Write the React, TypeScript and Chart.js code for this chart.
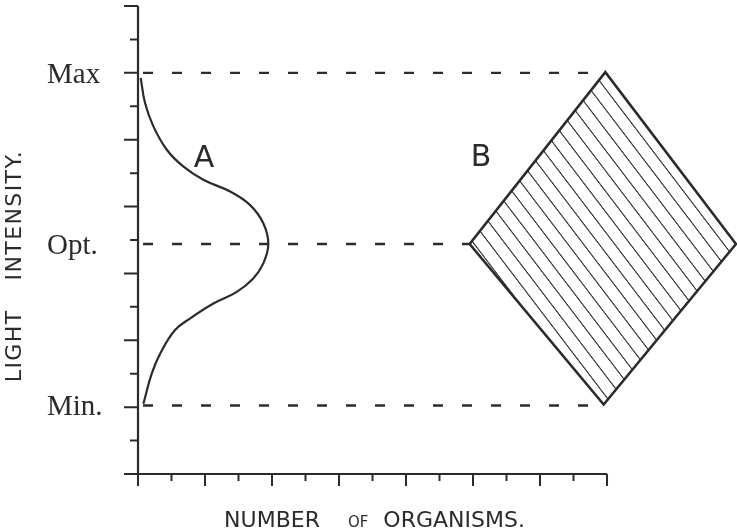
import React, { useEffect, useRef } from 'react';
import { Chart, registerables } from 'chart.js';

Chart.register(...registerables);

// ---------- data ----------
const levelNames = ['Max', 'Opt.', 'Min.'];
const levelValues = [12.0, 6.88, 2.05];
const levelLineStart = [0.15, 0.15, 0.15];
const levelLineEnd = [13.95, 9.9, 13.9];

// curve A (number of organisms vs light intensity)
const curveAY = [11.85, 11.1, 10.4, 9.7, 9.2, 8.8, 8.45, 8.05, 7.5, 6.88, 6.3, 5.85, 5.45, 5.1, 4.65, 4.3, 3.6, 3.0, 2.1];
const curveAX = [0.08, 0.21, 0.46, 0.86, 1.35, 1.95, 2.75, 3.34, 3.74, 3.89, 3.74, 3.44, 2.95, 2.25, 1.55, 1.1, 0.66, 0.41, 0.16];

// shape B (diamond): top, right, bottom, left, back to top (and right again so every corner is joined)
const diamondX = [13.95, 17.85, 13.9, 9.9, 13.95, 17.85];
const diamondY = [12.02, 6.88, 2.08, 6.88, 12.02, 6.88];

const axisTicks = [0, 1, 2, 3, 4, 5, 6, 7, 8, 9, 10, 11, 12, 13, 14];
const markLabels = ['A', 'B'];
const markX = [1.97, 10.24];
const markY = [9.42, 9.45];

const xTitleParts = ['NUMBER', 'OF', 'ORGANISMS.'];
const yTitleParts = ['LIGHT', 'INTENSITY.'];

const INK = '#2b2b2b';
const X_MAX = 17.88;
const Y_MAX = 14;

function makeHatch(): CanvasPattern | string {
  const t = document.createElement('canvas');
  t.width = 20;
  t.height = 20;
  const c = t.getContext('2d');
  if (!c) return 'rgba(0,0,0,0)';
  c.strokeStyle = '#3a3a3a';
  c.lineWidth = 1.9;
  c.beginPath();
  c.moveTo(0, 10);
  c.lineTo(20, 10);
  c.stroke();
  const main = document.createElement('canvas').getContext('2d');
  const p = main ? main.createPattern(t, 'repeat') : null;
  if (!p) return 'rgba(0,0,0,0.2)';
  const m = new DOMMatrix().rotateSelf(52.7).scaleSelf(12.4 / 20);
  p.setTransform(m);
  return p;
}

const decorPlugin = {
  id: 'decor',
  afterDatasetsDraw(chart: any) {
    const ctx: CanvasRenderingContext2D = chart.ctx;
    const xs = chart.scales.x;
    const ys = chart.scales.y;
    const px = (v: number) => xs.getPixelForValue(v);
    const py = (v: number) => ys.getPixelForValue(v);
    const first = axisTicks[0];
    const last = axisTicks[axisTicks.length - 1];
    ctx.save();
    ctx.strokeStyle = INK;
    ctx.lineWidth = 2.2;
    ctx.lineCap = 'butt';
    // axis lines
    ctx.beginPath();
    ctx.moveTo(px(first), py(last));
    ctx.lineTo(px(first), py(first));
    ctx.lineTo(px(last), py(first));
    ctx.stroke();
    // ticks
    ctx.lineWidth = 2;
    ctx.beginPath();
    axisTicks.forEach((t) => {
      const long = t % 2 === 0;
      const yl = long ? 14 : 8;
      ctx.moveTo(px(first), py(t));
      ctx.lineTo(px(first) - yl, py(t));
      const xl = long ? 12 : 7;
      ctx.moveTo(px(t), py(first));
      ctx.lineTo(px(t), py(first) + xl);
    });
    ctx.stroke();

    // level labels
    ctx.fillStyle = INK;
    ctx.font = '29px "Liberation Serif", "DejaVu Serif", serif';
    ctx.textAlign = 'left';
    ctx.textBaseline = 'alphabetic';
    levelNames.forEach((name, i) => {
      ctx.fillText(name, 47, py(levelValues[i]) + 10);
    });

    // A / B labels
    ctx.font = '30px "DejaVu Sans", sans-serif';
    ctx.textAlign = 'center';
    ctx.textBaseline = 'middle';
    markLabels.forEach((s, i) => {
      ctx.fillText(s, px(markX[i]), py(markY[i]));
    });

    // x title
    ctx.textAlign = 'left';
    ctx.textBaseline = 'alphabetic';
    const bigFont = '22px "DejaVu Sans", sans-serif';
    const smallFont = '15px "DejaVu Sans", sans-serif';
    ctx.font = bigFont;
    const w0 = ctx.measureText(xTitleParts[0]).width;
    const w2 = ctx.measureText(xTitleParts[2]).width;
    ctx.font = smallFont;
    const w1 = ctx.measureText(xTitleParts[1]).width;
    const g1 = 28, g2 = 15;
    const total = w0 + g1 + w1 + g2 + w2;
    const cx = (px(first) + px(last)) / 2 + 2;
    let x0 = cx - total / 2;
    const base = py(first) + 53;
    ctx.font = bigFont;
    ctx.fillText(xTitleParts[0], x0, base);
    x0 += w0 + g1;
    ctx.font = smallFont;
    ctx.fillText(xTitleParts[1], x0, base);
    x0 += w1 + g2;
    ctx.font = bigFont;
    ctx.fillText(xTitleParts[2], x0, base);

    // y title
    ctx.font = bigFont;
    (ctx as any).letterSpacing = '1.4px';
    const a = ctx.measureText(yTitleParts[0]).width;
    const b = ctx.measureText(yTitleParts[1]).width;
    const gap = 29;
    const tot = a + gap + b;
    const cy = (py(first) + py(last)) / 2 + 26;
    ctx.translate(15, cy);
    ctx.rotate(-Math.PI / 2);
    ctx.textBaseline = 'middle';
    ctx.fillText(yTitleParts[0], -tot / 2, 0);
    ctx.fillText(yTitleParts[1], -tot / 2 + a + gap, 0);
    (ctx as any).letterSpacing = '0px';
    ctx.restore();
  },
};

export default function App() {
  const ref = useRef<HTMLCanvasElement | null>(null);

  useEffect(() => {
    const canvas = ref.current;
    if (!canvas) return;
    const hatch = makeHatch();

    const datasets: any[] = [];
    levelValues.forEach((v, i) => {
      datasets.push({
        label: levelNames[i],
        data: [
          { x: levelLineStart[i], y: v },
          { x: levelLineEnd[i], y: v },
        ],
        showLine: true,
        borderColor: INK,
        borderWidth: 2.4,
        borderDash: [10, 19],
        pointRadius: 0,
        fill: false,
        clip: false,
      });
    });
    datasets.push({
      label: 'A',
      data: curveAX.map((x, i) => ({ x, y: curveAY[i] })),
      showLine: true,
      borderColor: INK,
      borderWidth: 2.2,
      tension: 0.4,
      pointRadius: 0,
      fill: false,
      clip: false,
    });
    datasets.push({
      label: 'B',
      data: diamondX.map((x, i) => ({ x, y: diamondY[i] })),
      showLine: true,
      borderColor: INK,
      borderWidth: 2.6,
      borderJoinStyle: 'miter',
      backgroundColor: hatch,
      fill: 'shape',
      tension: 0,
      pointRadius: 0,
      clip: false,
    });

    const chart = new Chart(canvas, {
      type: 'scatter',
      data: { datasets },
      options: {
        responsive: false,
        animation: false,
        maintainAspectRatio: false,
        layout: { padding: { left: 138, right: 0, top: 6, bottom: 58 } },
        plugins: {
          legend: { display: false },
          tooltip: { enabled: false },
          title: { display: false },
        },
        scales: {
          x: { type: 'linear', min: 0, max: X_MAX, display: false },
          y: { type: 'linear', min: 0, max: Y_MAX, display: false },
        },
      },
      plugins: [decorPlugin],
    });
    return () => chart.destroy();
  }, []);

  return (
    <div style={{ position: 'absolute', left: 0, top: 0, width: 737, height: 532, background: '#fff' }}>
      <canvas ref={ref} width={737} height={532} style={{ display: 'block' }} />
    </div>
  );
}
